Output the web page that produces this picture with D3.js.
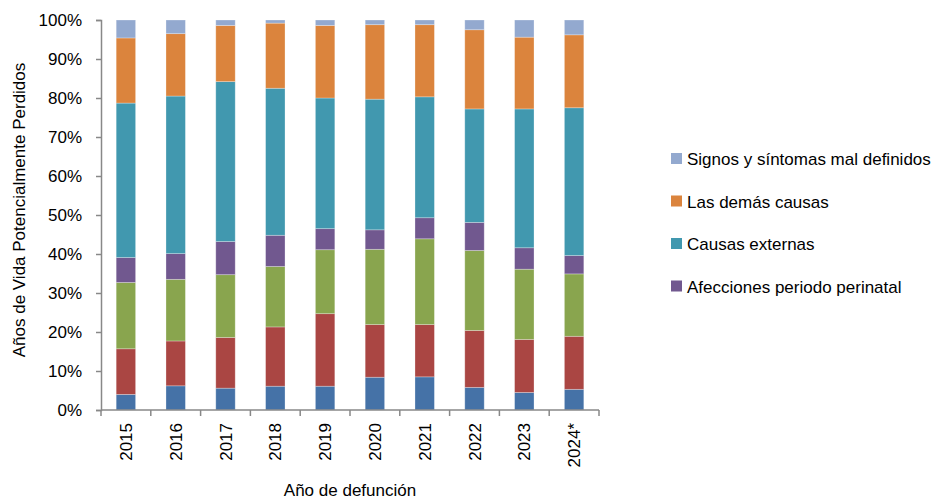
<!DOCTYPE html>
<html>
<head>
<meta charset="utf-8">
<style>
    body { margin: 0; background: #fff; }
    svg text { font-family: "Liberation Sans", Arial, sans-serif; fill: #000; }
</style>
</head>
<body>
<svg id="chart" width="940" height="502"></svg>
<script src="https://d3js.org/d3.v7.min.js"></script>
<script>
    // years on the x axis
    const years = ["2015", "2016", "2017", "2018", "2019", "2020", "2021", "2022", "2023", "2024*"];
    // series stacked bottom to top, in % of the total
    const serie1 = [4.0, 6.2, 5.6, 6.1, 6.1, 8.4, 8.5, 5.8, 4.5, 5.3];
    const serie2 = [11.7, 11.5, 13.0, 15.2, 18.6, 13.5, 13.4, 14.6, 13.6, 13.6];
    const serie3 = [17.0, 15.8, 16.1, 15.5, 16.4, 19.3, 22.0, 20.5, 18.0, 16.0];
    const perinatal = [6.4, 6.6, 8.5, 8.0, 5.4, 5.0, 5.4, 7.2, 5.5, 4.7];
    const externas = [39.6, 40.4, 41.0, 37.7, 33.5, 33.5, 31.0, 29.1, 35.6, 37.9];
    const demas = [16.7, 16.0, 14.4, 16.7, 18.6, 19.1, 18.5, 20.3, 18.4, 18.7];
    const signos = [4.6, 3.5, 1.4, 0.8, 1.4, 1.2, 1.2, 2.5, 4.4, 3.8];
    const yTicks = [0, 10, 20, 30, 40, 50, 60, 70, 80, 90, 100];

    const series = [
        {key: "serie1", values: serie1, color: "#4572a7", legend: false},
        {key: "serie2", values: serie2, color: "#aa4643", legend: false},
        {key: "serie3", values: serie3, color: "#89a54e", legend: false},
        {key: "Afecciones periodo perinatal", values: perinatal, color: "#71588f", legend: true},
        {key: "Causas externas", values: externas, color: "#4198af", legend: true},
        {key: "Las demás causas", values: demas, color: "#db843d", legend: true},
        {key: "Signos y síntomas mal definidos", values: signos, color: "#93a9cf", legend: true}
    ];

    // rows for d3.stack, normalised to 100%
    let rows = years.map((yr, i) => {
        let row = {year: yr};
        let total = d3.sum(series, (s) => s.values[i]);
        series.forEach((s) => row[s.key] = s.values[i] / total * 100);
        return row;
    });
    let stacked = d3.stack().keys(series.map((s) => s.key))(rows);

    const svg = d3.select("#chart");
    const plotLeft = 101, plotRight = 599, plotTop = 20, plotBottom = 410;

    let x = d3.scaleBand().domain(years).range([plotLeft, plotRight]).padding(0);
    let y = d3.scaleLinear().domain([0, 100]).range([plotBottom, plotTop]);
    let barW = x.bandwidth() * 0.39;

    // bars
    svg.append("g").selectAll("g").data(stacked)
        .enter()
        .append("g")
        .attr("fill", (d, i) => series[i].color)
        .selectAll("rect").data((d) => d)
        .enter()
        .append("rect")
        .attr("x", (d) => x(d.data.year) + (x.bandwidth() - barW) / 2)
        .attr("width", barW)
        .attr("y", (d) => y(d[1]))
        .attr("height", (d) => y(d[0]) - y(d[1]))
        .attr("stroke", "rgba(255,255,255,0.35)")
        .attr("stroke-width", 0.8);

    // y axis
    let yAxis = d3.axisLeft(y).tickValues(yTicks).tickFormat((v) => v + "%").tickSizeInner(5).tickSizeOuter(5).tickPadding(14);
    let gy = svg.append("g").attr("transform", `translate(${plotLeft},0)`).call(yAxis);
    gy.selectAll("text").attr("font-size", 17).style("font-family", "'Liberation Sans', Arial, sans-serif").attr("fill", "#000");

    // x axis: ticks at category boundaries
    let gx = svg.append("g").attr("transform", `translate(0,${plotBottom})`);
    gx.append("line").attr("x1", plotLeft).attr("x2", plotRight).attr("y1", 0).attr("y2", 0);
    gx.selectAll(".tk").data(d3.range(years.length + 1))
        .enter()
        .append("line")
        .attr("class", "tk")
        .attr("x1", (i) => plotLeft + i * x.step())
        .attr("x2", (i) => plotLeft + i * x.step())
        .attr("y1", 0).attr("y2", 6);
    gx.selectAll("text").data(years)
        .enter()
        .append("text")
        .attr("transform", (d) => `translate(${x(d) + x.bandwidth() / 2 + 6},13) rotate(-90)`)
        .attr("text-anchor", "end")
        .attr("font-size", 17)
        .text((d) => d);

    [gy, gx].forEach((g) => {
        g.selectAll("line, path").attr("stroke", "#888").attr("stroke-width", 1.5);
    });

    // titles
    svg.append("text")
        .attr("transform", "translate(25,210) rotate(-90)")
        .attr("text-anchor", "middle")
        .attr("font-size", 17)
        .text("Años de Vida Potencialmente Perdidos");
    svg.append("text")
        .attr("x", (plotLeft + plotRight) / 2)
        .attr("y", 496)
        .attr("text-anchor", "middle")
        .attr("font-size", 17)
        .text("Año de defunción");

    // legend (top series first)
    let legendItems = series.filter((s) => s.legend).reverse();
    let lg = svg.append("g").selectAll("g").data(legendItems)
        .enter()
        .append("g")
        .attr("transform", (d, i) => `translate(671,${159 + i * 42.5})`);
    lg.append("rect").attr("x", 0).attr("y", -6).attr("width", 11).attr("height", 11).attr("fill", (d) => d.color);
    lg.append("text").attr("x", 16).attr("y", 6).attr("font-size", 17).text((d) => d.key);
</script>
</body>
</html>
